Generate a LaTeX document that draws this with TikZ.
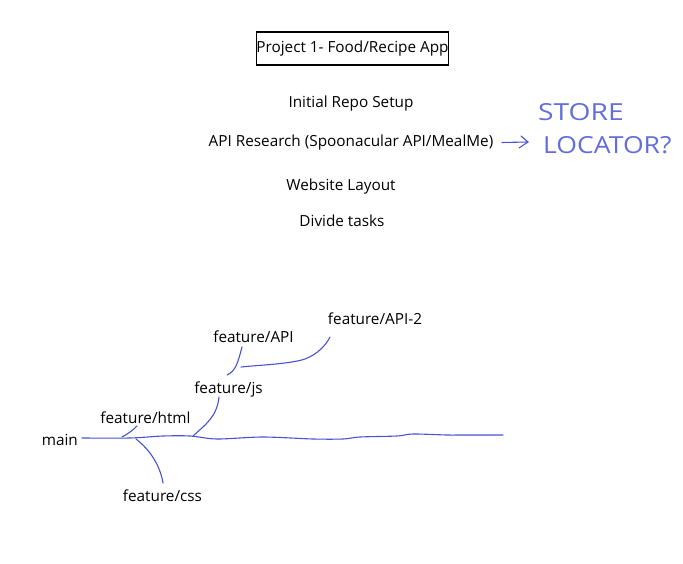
\documentclass[tikz,border=0pt]{standalone}
\usepackage{fontspec}
\setmainfont{Open Sans}
\begin{document}
\begin{tikzpicture}[x=1pt,y=-1pt,
  lbl/.style={inner sep=0pt,anchor=center,font=\fontsize{15.3}{17}\selectfont},
  ink/.style={draw=inkblue,line width=1.1pt,line cap=round,line join=round},
  hand/.style={inner sep=0pt,anchor=west,text=inkblue!85,font=\fontsize{23.5}{26}\selectfont}]
\definecolor{inkblue}{RGB}{72,84,212}
\useasboundingbox[fill=white] (0,0) rectangle (683,564);
% title
\node[draw=black,line width=1.2pt,minimum width=191pt,minimum height=33pt,inner sep=0pt,font=\fontsize{15.3}{17}\selectfont] (title) at (352.5,48.5) {Project 1- Food/Recipe App};
\node[lbl] (repo) at (351,103.5) {Initial Repo Setup};
\node[lbl] (api) at (351,142.5) {API Research (Spoonacular API/MealMe)};
\node[lbl] (layout) at (341,186.5) {Website Layout};
\node[lbl] (tasks) at (342,220.5) {Divide tasks};
% handwritten note
\node[hand] (store) at (538,112) {\scalebox{1.2}[1]{STORE}};
\node[hand] (locator) at (543,145) {\scalebox{1.13}[1]{LOCATOR?}};
\coordinate (arrS) at (502,142.5);
\coordinate (arrE) at (528,142);
\draw[ink] (arrS) -- (arrE);
\draw[ink] (521,136) -- (arrE) -- (519,148);
% branches
\node[lbl,anchor=east] (main) at (78,439.5) {main};
\node[lbl] (html) at (145.5,417.5) {feature/html};
\node[lbl] (css) at (162.5,495.5) {feature/css};
\node[lbl] (js) at (228.5,389.5) {feature/js};
\node[lbl] (apib) at (253.5,336.5) {feature/API};
\node[lbl] (api2) at (375,318.5) {feature/API-2};
\coordinate (m0) at (82,438);
\coordinate (m1) at (503,435);
\draw[ink] plot[smooth,tension=0.5] coordinates {(m0) (130,438) (163,436) (190,436) (217,439) (263,437) (313,439) (343,439) (360,437) (397,436) (413,434) (447,435) (463,435) (m1)};
\draw[ink] (122,437) .. controls (128,434) and (133,430) .. (137,426);
\draw[ink] (136,439) .. controls (150,450) and (160,465) .. (163,483);
\draw[ink] (193,436) .. controls (205,425) and (217,417) .. (219,397);
\draw[ink] (227,375) .. controls (236,371) and (238,362) .. (242,347);
\draw[ink] (241,367) .. controls (260,365) and (290,364) .. (305,359) .. controls (318,354) and (326,345) .. (330,337);
\end{tikzpicture}
\end{document}
